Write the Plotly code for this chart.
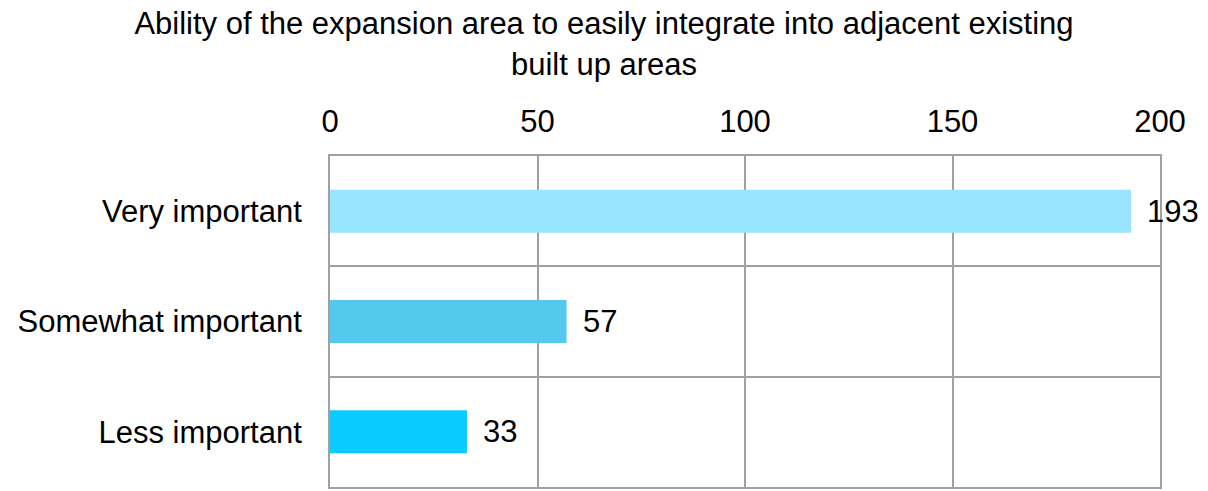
import plotly.graph_objects as go

categories = ["Very important", "Somewhat important", "Less important"]
values = [193, 57, 33]
colors = ["#99E5FF", "#55C8EE", "#0ACBFF"]
tick_vals = [0, 50, 100, 150, 200]

FONT = "Liberation Sans, Arial, sans-serif"
GRID = "#a0a0a0"
FS = 31

fig = go.Figure()
fig.add_trace(go.Bar(
    x=values, y=categories, orientation="h",
    marker=dict(color=colors, line=dict(width=0)),
    hoverinfo="skip",
))

for c, v in zip(categories, values):
    fig.add_annotation(x=v, y=c, text=str(v), showarrow=False,
                       xanchor="left", xshift=14,
                       font=dict(family=FONT, size=FS, color="#000000"))

fig.update_layout(
    width=1208, height=491,
    margin=dict(l=330, r=48, t=156, b=2),
    paper_bgcolor="white", plot_bgcolor="white",
    bargap=0.61,
    showlegend=False,
    font=dict(family=FONT, size=FS, color="#000000"),
    title=dict(
        text="Ability of the expansion area to easily integrate into adjacent existing<br>built up areas",
        x=0.5, xanchor="center", y=0.93, yanchor="top",
        font=dict(family=FONT, size=FS, color="#000000"),
    ),
    xaxis=dict(
        side="top", range=[0, 200], tickvals=tick_vals,
        showgrid=True, gridcolor=GRID, gridwidth=2,
        showline=True, linecolor=GRID, linewidth=2, mirror=True,
        zeroline=False, ticks="", ticklabelstandoff=10,
        tickfont=dict(family=FONT, size=FS, color="#000000"),
    ),
    yaxis=dict(
        type="category", categoryorder="array", categoryarray=categories,
        autorange="reversed", tickson="boundaries",
        showgrid=True, gridcolor=GRID, gridwidth=2,
        showline=True, linecolor=GRID, linewidth=2, mirror=True,
        ticks="", ticklabelstandoff=20,
        tickfont=dict(family=FONT, size=FS, color="#000000"),
    ),
)

fig.write_html("out.html")
